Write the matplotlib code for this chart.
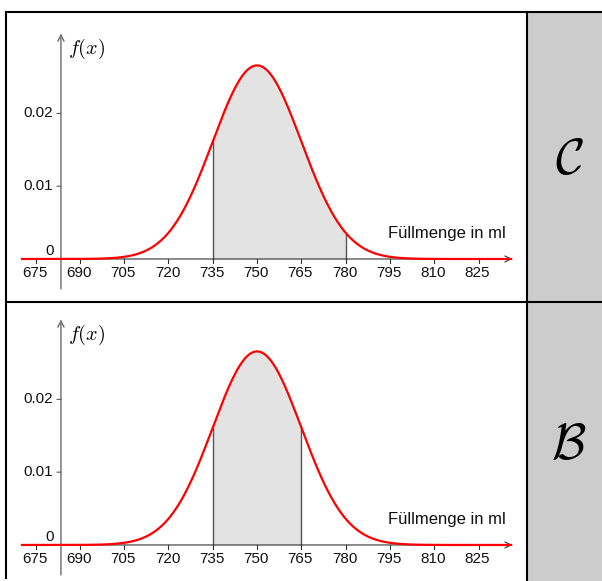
import numpy as np
import matplotlib
matplotlib.use("Agg")
import matplotlib.pyplot as plt
from matplotlib.lines import Line2D
from matplotlib.patches import Rectangle

plt.rcParams['font.family'] = ['Liberation Sans', 'DejaVu Sans']
plt.rcParams['mathtext.fontset'] = 'cm'

# Normal distribution of the fill volume (ml)
MU = 750
SIGMA = 15

# Shaded intervals and panel letters
intervals = [(735, 780), (735, 765)]
letters = ['C', 'B']

x_ticks = [675, 690, 705, 720, 735, 750, 765, 780, 795, 810, 825]
y_ticks = [0.01, 0.02]
y_tick_labels = ['0.01', '0.02']
x_label = 'Füllmenge in ml'

X_START, X_END = 670.1, 836.4     # drawn extent of the curve / x-axis
Y_AXIS_AT = 683.6                  # where the vertical axis crosses
Y_AXIS_RANGE = (-0.0041, 0.0310)


def density(x):
    return np.exp(-0.5 * ((x - MU) / SIGMA) ** 2) / (SIGMA * np.sqrt(2 * np.pi))


W, H = 602, 581
fig = plt.figure(figsize=(W / 100, H / 100), dpi=100)
fig.patch.set_facecolor('white')


def fx(px):
    return px / W


def fy(py):
    return 1 - py / H


# gray side boxes
fig.patches.append(Rectangle((fx(527), fy(581)), fx(602) - fx(527), fy(12) - fy(581),
                             transform=fig.transFigure, facecolor='#cccccc',
                             edgecolor='none', zorder=0))

# panel layout: (top px, bottom px, ylim)
panels = [(12, 302, (-0.00591, 0.03393)), (302, 581, (-0.00495, 0.03338))]

for (top, bottom, ylim), (a, b), letter in zip(panels, intervals, letters):
    ax = fig.add_axes([fx(6), fy(bottom), fx(527) - fx(6), fy(top) - fy(bottom)])
    ax.set_xlim(665.0, 841.4)
    ax.set_ylim(*ylim)
    ax.axis('off')
    ax.patch.set_alpha(0)

    # shaded probability area
    xs_fill = np.linspace(a, b, 300)
    ax.fill_between(xs_fill, 0, density(xs_fill), color='#e3e3e3', lw=0, zorder=1)
    for edge in (a, b):
        ax.plot([edge, edge], [0, density(edge)], color='#555555', lw=1.0, zorder=2)

    # x-axis with arrow
    ax.annotate('', xy=(X_END, 0), xytext=(X_START, 0),
                arrowprops=dict(arrowstyle='->', color='#333333', lw=0.8,
                                mutation_scale=11, shrinkA=0, shrinkB=0),
                zorder=2)
    # y-axis with arrow
    ax.annotate('', xy=(Y_AXIS_AT, Y_AXIS_RANGE[1]), xytext=(Y_AXIS_AT, Y_AXIS_RANGE[0]),
                arrowprops=dict(arrowstyle='->', color='#777777', lw=1.1,
                                mutation_scale=11, shrinkA=0, shrinkB=0),
                zorder=2)

    # density curve
    xs = np.linspace(X_START, X_END, 800)
    ax.plot(xs, density(xs), color='#ff0000', lw=1.6, zorder=4, solid_capstyle='butt')

    # x ticks and labels
    for t in x_ticks:
        ax.plot([t, t], [0, -0.00055], color='#333333', lw=0.8, zorder=2)
        ax.annotate(str(t), xy=(t, 0), xytext=(-1, -14), textcoords='offset pixels',
                    ha='center', va='center', fontsize=11, color='#111111')
    # y ticks and labels
    for t, lab in zip(y_ticks, y_tick_labels):
        ax.annotate('', xy=(Y_AXIS_AT, t), xytext=(-4, 0), textcoords='offset pixels',
                    arrowprops=dict(arrowstyle='-', color='#555555', lw=0.8,
                                    shrinkA=0, shrinkB=0))
        ax.annotate(lab, xy=(Y_AXIS_AT, t), xytext=(-8, 0), textcoords='offset pixels',
                    ha='right', va='center', fontsize=11, color='#111111')
    ax.annotate('0', xy=(Y_AXIS_AT, 0), xytext=(-11, 8), textcoords='offset pixels',
                ha='center', va='center', fontsize=11, color='#111111')

    ax.annotate(r'$f(x)$', xy=(Y_AXIS_AT, Y_AXIS_RANGE[1]), xytext=(7, -16),
                textcoords='offset pixels', ha='left', va='center', fontsize=14.5)
    ax.annotate(x_label, xy=(X_END, 0), xytext=(-6, 25), textcoords='offset pixels',
                ha='right', va='center', fontsize=12, color='#111111')

    # letter in the side box
    fig.text(fx(569), fy((top + bottom) / 2 + 4), r'$\mathcal{' + letter + '}$',
             ha='center', va='center', fontsize=36)

# frame lines
frame = [
    ((6, 602), (12, 12)),
    ((6, 602), (302, 302)),
    ((6, 6), (12, 578)),
    ((527, 527), (12, 581)),
]
for xs_px, ys_px in frame:
    fig.lines.append(Line2D([fx(p) for p in xs_px], [fy(p) for p in ys_px],
                            transform=fig.transFigure, color='black', lw=1.5, zorder=10))

fig.savefig('out.png', dpi=100)
